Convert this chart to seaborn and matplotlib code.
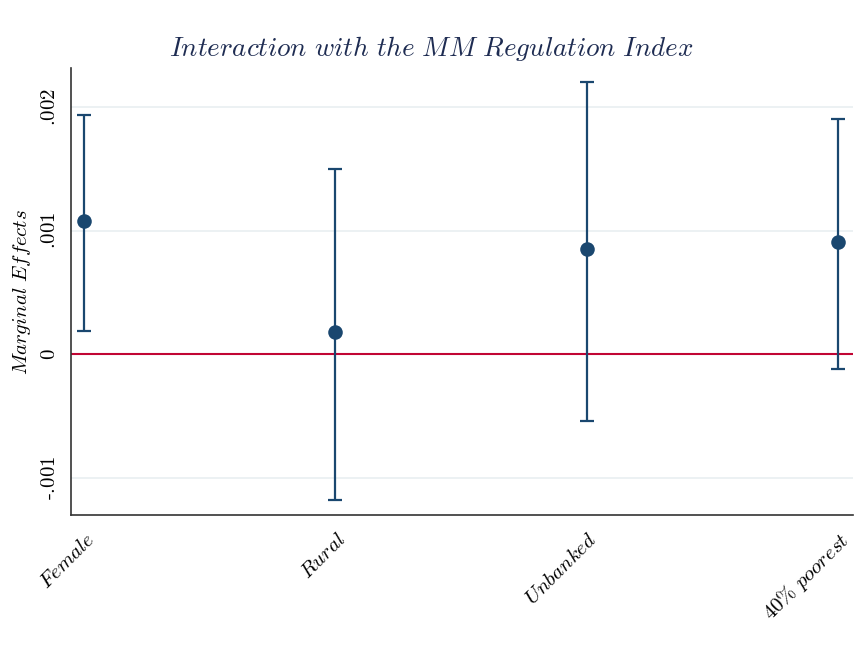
import matplotlib
matplotlib.use("Agg")
import matplotlib.pyplot as plt
import seaborn as sns
import pandas as pd

# Marginal effects of the interaction terms with 95% confidence bounds
groups = ["Female", "Rural", "Unbanked", "40% poorest"]
effects = [0.001075, 0.000178, 0.000849, 0.000905]
ci_low = [0.000186, -0.001180, -0.000542, -0.000121]
ci_high = [0.001932, 0.001496, 0.002199, 0.001900]
yticks = [-0.001, 0.0, 0.001, 0.002]
ytick_labels = ["-.001", "0", ".001", ".002"]

sns.set_theme(style="white")
plt.rcParams["mathtext.fontset"] = "cm"
plt.rcParams["text.color"] = "black"
plt.rcParams["xtick.color"] = "black"
plt.rcParams["ytick.color"] = "black"
plt.rcParams["axes.labelcolor"] = "black"

NAVY = "#1a476f"
RED = "#c10534"
GRID = "#eaf0f2"


def cm_it(s):
    s = s.replace("%", r"\%").replace(" ", r"\ ")
    return r"$\mathit{" + s + "}$"


def cm_num(s):
    return r"$\text{" + s + "}$"


df = pd.DataFrame({"pos": range(len(groups)), "effect": effects,
                   "lo": ci_low, "hi": ci_high})

fig = plt.figure(figsize=(8.62, 6.55), dpi=100)
ax = fig.add_axes([0.0824, 0.2137, 0.9072, 0.6825])

for y in yticks:
    if y != 0:
        ax.axhline(y, color=GRID, lw=1.3, zorder=0)
ax.axhline(0, color=RED, lw=1.5, zorder=1)

ax.errorbar(df["pos"], df["effect"],
            yerr=[df["effect"] - df["lo"], df["hi"] - df["effect"]],
            fmt="none", ecolor=NAVY, elinewidth=1.6, capsize=5,
            capthick=1.6, zorder=2)
sns.scatterplot(data=df, x="pos", y="effect", ax=ax, color=NAVY, s=110,
                edgecolor=NAVY, linewidth=0, zorder=3, legend=False)

ax.set_xlim(-0.052, 3.06)
ax.set_ylim(-0.0013, 0.002315)

ax.set_xticks(df["pos"])
ax.set_xticklabels([cm_it(g) for g in groups], rotation=45, ha="right",
                   rotation_mode="anchor", fontsize=15)
ax.set_yticks(yticks)
ax.set_yticklabels([cm_num(t) for t in ytick_labels], rotation=90,
                   va="center", fontsize=15)
ax.tick_params(axis="both", direction="out", length=6, width=1.1,
               color="#333333", pad=4)
ax.tick_params(axis="y", pad=3)

for side in ["top", "right"]:
    ax.spines[side].set_visible(False)
for side in ["left", "bottom"]:
    ax.spines[side].set_color("#333333")
    ax.spines[side].set_linewidth(1.2)

ax.set_xlabel("")
ax.set_ylabel(cm_it("Marginal Effects"), fontsize=15, labelpad=4)
fig.suptitle(cm_it("Interaction with the MM Regulation Index"),
             x=0.5, y=0.948, fontsize=19.5, color="#1e2c52")

fig.savefig("out.png", dpi=100, facecolor="white")
